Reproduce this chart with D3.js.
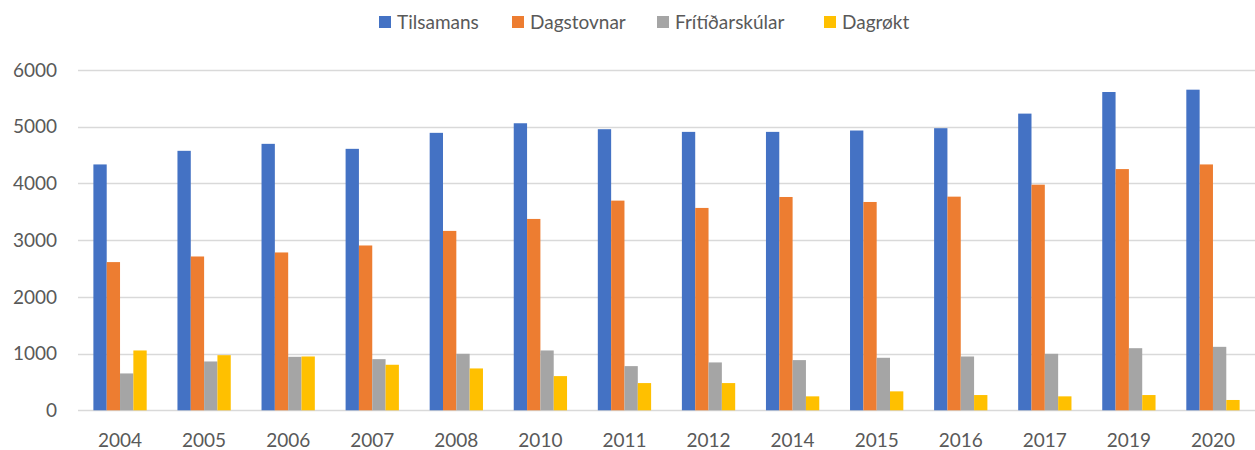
<!DOCTYPE html>
<html>
<head>
<meta charset="utf-8">
<script src="https://cdn.jsdelivr.net/npm/d3@7"></script>
<style>
  body { margin: 0; background: #fff; }
  svg text { font-family: Lato, "Open Sans", sans-serif; fill: #595959; }
</style>
</head>
<body>
<div id="chart"></div>
<script>
const width = 1255;
const height = 450;
const margin = { top: 70, right: 0, bottom: 39, left: 78 };

// data
const years = ["2004", "2005", "2006", "2007", "2008", "2010", "2011", "2012", "2014", "2015", "2016", "2017", "2019", "2020"];
const seriesNames = ["Tilsamans", "Dagstovnar", "Frítíðarskúlar", "Dagrøkt"];
const tilsamans      = [4335, 4575, 4698, 4610, 4892, 5061, 4956, 4909, 4909, 4933, 4974, 5231, 5612, 5653];
const dagstovnar     = [2613, 2712, 2783, 2906, 3163, 3374, 3697, 3568, 3761, 3673, 3767, 3978, 4253, 4335];
const fritidarskular = [650, 861, 943, 902, 996, 1055, 779, 844, 885, 926, 949, 996, 1095, 1119];
const dagrokt        = [1055, 972, 949, 803, 738, 603, 480, 480, 246, 334, 269, 246, 269, 182];
const yTicks = [0, 1000, 2000, 3000, 4000, 5000, 6000];
const colors = ["#4472c4", "#ed7d31", "#a5a5a5", "#ffc000"];

const allSeries = [tilsamans, dagstovnar, fritidarskular, dagrokt];
const data = years.map((y, i) => ({ year: y, values: allSeries.map(s => s[i]) }));

const svg = d3.select("#chart").append("svg")
    .attr("width", width)
    .attr("height", height);

const x0 = d3.scaleBand()
    .domain(years)
    .range([margin.left, width - margin.right])
    .paddingInner(0.366)
    .paddingOuter(0.183);

const x1 = d3.scaleBand()
    .domain(d3.range(seriesNames.length))
    .range([0, x0.bandwidth()]);

const y = d3.scaleLinear()
    .domain([0, 6000])
    .range([height - margin.bottom - 0.7, margin.top]);

// gridlines
svg.append("g")
    .selectAll("line")
    .data(yTicks)
    .join("line")
    .attr("x1", margin.left)
    .attr("x2", width - margin.right)
    .attr("y1", d => Math.round(y(d)) + 0.5)
    .attr("y2", d => Math.round(y(d)) + 0.5)
    .attr("stroke", "#d9d9d9")
    .attr("stroke-width", 1.3);

// y labels
svg.append("g")
    .selectAll("text")
    .data(yTicks)
    .join("text")
    .attr("x", 57)
    .attr("y", d => y(d))
    .attr("dy", "0.35em")
    .attr("text-anchor", "end")
    .attr("font-size", 19)
    .text(d => d);

// bars
const groups = svg.append("g")
    .selectAll("g")
    .data(data)
    .join("g")
    .attr("transform", d => `translate(${x0(d.year)},0)`);

groups.selectAll("rect")
    .data(d => d.values)
    .join("rect")
    .attr("x", (d, i) => x1(i))
    .attr("width", x1.bandwidth())
    .attr("y", d => y(d))
    .attr("height", d => y(0) - y(d))
    .attr("fill", (d, i) => colors[i]);

// x labels
svg.append("g")
    .selectAll("text")
    .data(years)
    .join("text")
    .attr("x", d => x0(d) + x0.bandwidth() / 2)
    .attr("y", 440)
    .attr("dy", "0.35em")
    .attr("text-anchor", "middle")
    .attr("font-size", 19)
    .text(d => d);

// legend
const legendX = [379, 512, 657, 824];
const legend = svg.append("g")
    .selectAll("g")
    .data(seriesNames)
    .join("g")
    .attr("transform", (d, i) => `translate(${legendX[i]},22)`);

legend.append("rect")
    .attr("x", 0)
    .attr("y", -6)
    .attr("width", 12)
    .attr("height", 12)
    .attr("fill", (d, i) => colors[i]);

legend.append("text")
    .attr("x", 18)
    .attr("y", 0)
    .attr("dy", "0.35em")
    .attr("font-size", 19)
    .text(d => d);
</script>
</body>
</html>
